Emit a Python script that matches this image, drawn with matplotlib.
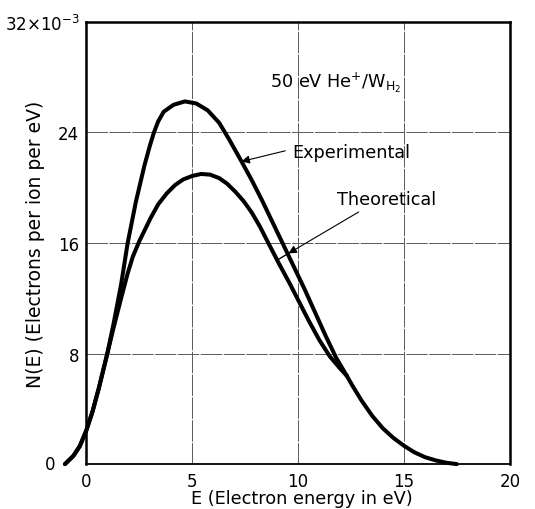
import matplotlib.pyplot as plt

# Electron energy (eV) and N(E) in units of 1e-3 electrons per ion per eV
E_exp = [-1.0, -0.6, -0.3, 0.0, 0.3, 0.6, 1.0, 1.3, 1.65, 1.96, 2.35, 2.75, 3.0, 3.2,
         3.4, 3.66, 4.12, 4.66, 5.2, 5.74, 6.28, 6.75, 7.3, 7.8, 8.3, 8.8, 9.3, 9.8,
         10.3, 10.8, 11.3, 11.8, 12.3]
N_exp = [0.0, 0.6, 1.3, 2.4, 3.8, 5.5, 8.0, 10.2, 13.0, 16.0, 19.0, 21.6, 23.0, 24.0,
         24.8, 25.5, 26.0, 26.25, 26.1, 25.6, 24.7, 23.5, 22.0, 20.6, 19.1, 17.5, 15.9, 14.3,
         12.7, 11.0, 9.3, 7.7, 6.4]

E_th = [-1.0, -0.6, -0.3, 0.0, 0.3, 0.6, 1.0, 1.3, 1.65, 1.96, 2.2, 2.5, 3.04, 3.4,
        3.81, 4.2, 4.58, 5.0, 5.43, 5.85, 6.28, 6.65, 7.05, 7.45, 7.82, 8.2, 8.6, 9.14,
        9.6, 10.0, 10.5, 11.0, 11.5, 12.0, 12.3]
N_th = [0.0, 0.6, 1.3, 2.4, 3.8, 5.5, 8.0, 9.9, 12.0, 13.8, 15.0, 16.1, 17.8, 18.8,
        19.6, 20.2, 20.6, 20.85, 21.0, 20.95, 20.7, 20.3, 19.7, 19.0, 18.2, 17.2, 16.0, 14.4,
        13.1, 11.9, 10.4, 9.0, 7.8, 6.9, 6.4]

# common tail where both curves run together
E_tail = [12.3, 12.6, 13.0, 13.5, 14.0, 14.5, 15.0, 15.5, 16.0, 16.5, 17.0, 17.5]
N_tail = [6.4, 5.6, 4.6, 3.5, 2.6, 1.9, 1.33, 0.85, 0.5, 0.27, 0.1, 0.0]

xticks = [0, 5, 10, 15, 20]
yticks = [0, 8, 16, 24, 32]
ylabels = ['', '8', '16', '24', r'32$\times$10$^{-3}$']

fig = plt.figure(figsize=(5.35, 5.10), dpi=100)
ax = fig.add_axes([0.161, 0.088, 0.792, 0.867])

lw = 2.9
for E, N in [(E_exp, N_exp), (E_th, N_th), (E_tail, N_tail)]:
    ax.plot(E, N, color='black', lw=lw, clip_on=False,
            solid_capstyle='round', solid_joinstyle='round')

ax.set_xlim(0, 20)
ax.set_ylim(0, 32)
ax.set_xticks(xticks)
ax.set_yticks(yticks)
ax.set_yticklabels(ylabels)
ax.tick_params(length=0, labelsize=12)
ax.tick_params(axis='x', pad=6)
ax.tick_params(axis='y', pad=5)
ax.grid(True, color='0.35', lw=0.7, linestyle=(0, (22, 1.5)))
for s in ax.spines.values():
    s.set_linewidth(1.8)
ax.spines['bottom'].set_linewidth(1.3)

# y-axis zero label sits further out in the original
ax.text(-0.085, 0.0, '0', transform=ax.transAxes, fontsize=12, ha='center', va='center')

ax.set_xlabel('E (Electron energy in eV)', fontsize=12.8)
ax.xaxis.set_label_coords(0.51, -0.056)
ax.set_ylabel('N(E) (Electrons per ion per eV)', fontsize=13.5)
ax.yaxis.set_label_coords(-0.097, 0.5)

ax.text(8.68, 27.7, r'50 eV He$^{+}$/W$_{\mathrm{H_2}}$', fontsize=12.7, va='center')
ax.annotate('Experimental', xy=(7.33, 21.9), xytext=(9.72, 22.6), fontsize=12.7, va='center',
            arrowprops=dict(arrowstyle='-|>', color='black', lw=0.8, mutation_scale=12,
                            shrinkA=3, shrinkB=0, relpos=(0.0, 0.65)))
ax.annotate('Theoretical', xy=(9.55, 15.25), xytext=(11.84, 19.2), fontsize=12.7, va='center',
            arrowprops=dict(arrowstyle='-|>', color='black', lw=0.8, mutation_scale=12,
                            shrinkA=2, shrinkB=0, relpos=(0.29, 0.0)))
ax.plot([9.0, 9.55], [14.75, 15.25], color='black', lw=1.0)

plt.savefig('out.png')
